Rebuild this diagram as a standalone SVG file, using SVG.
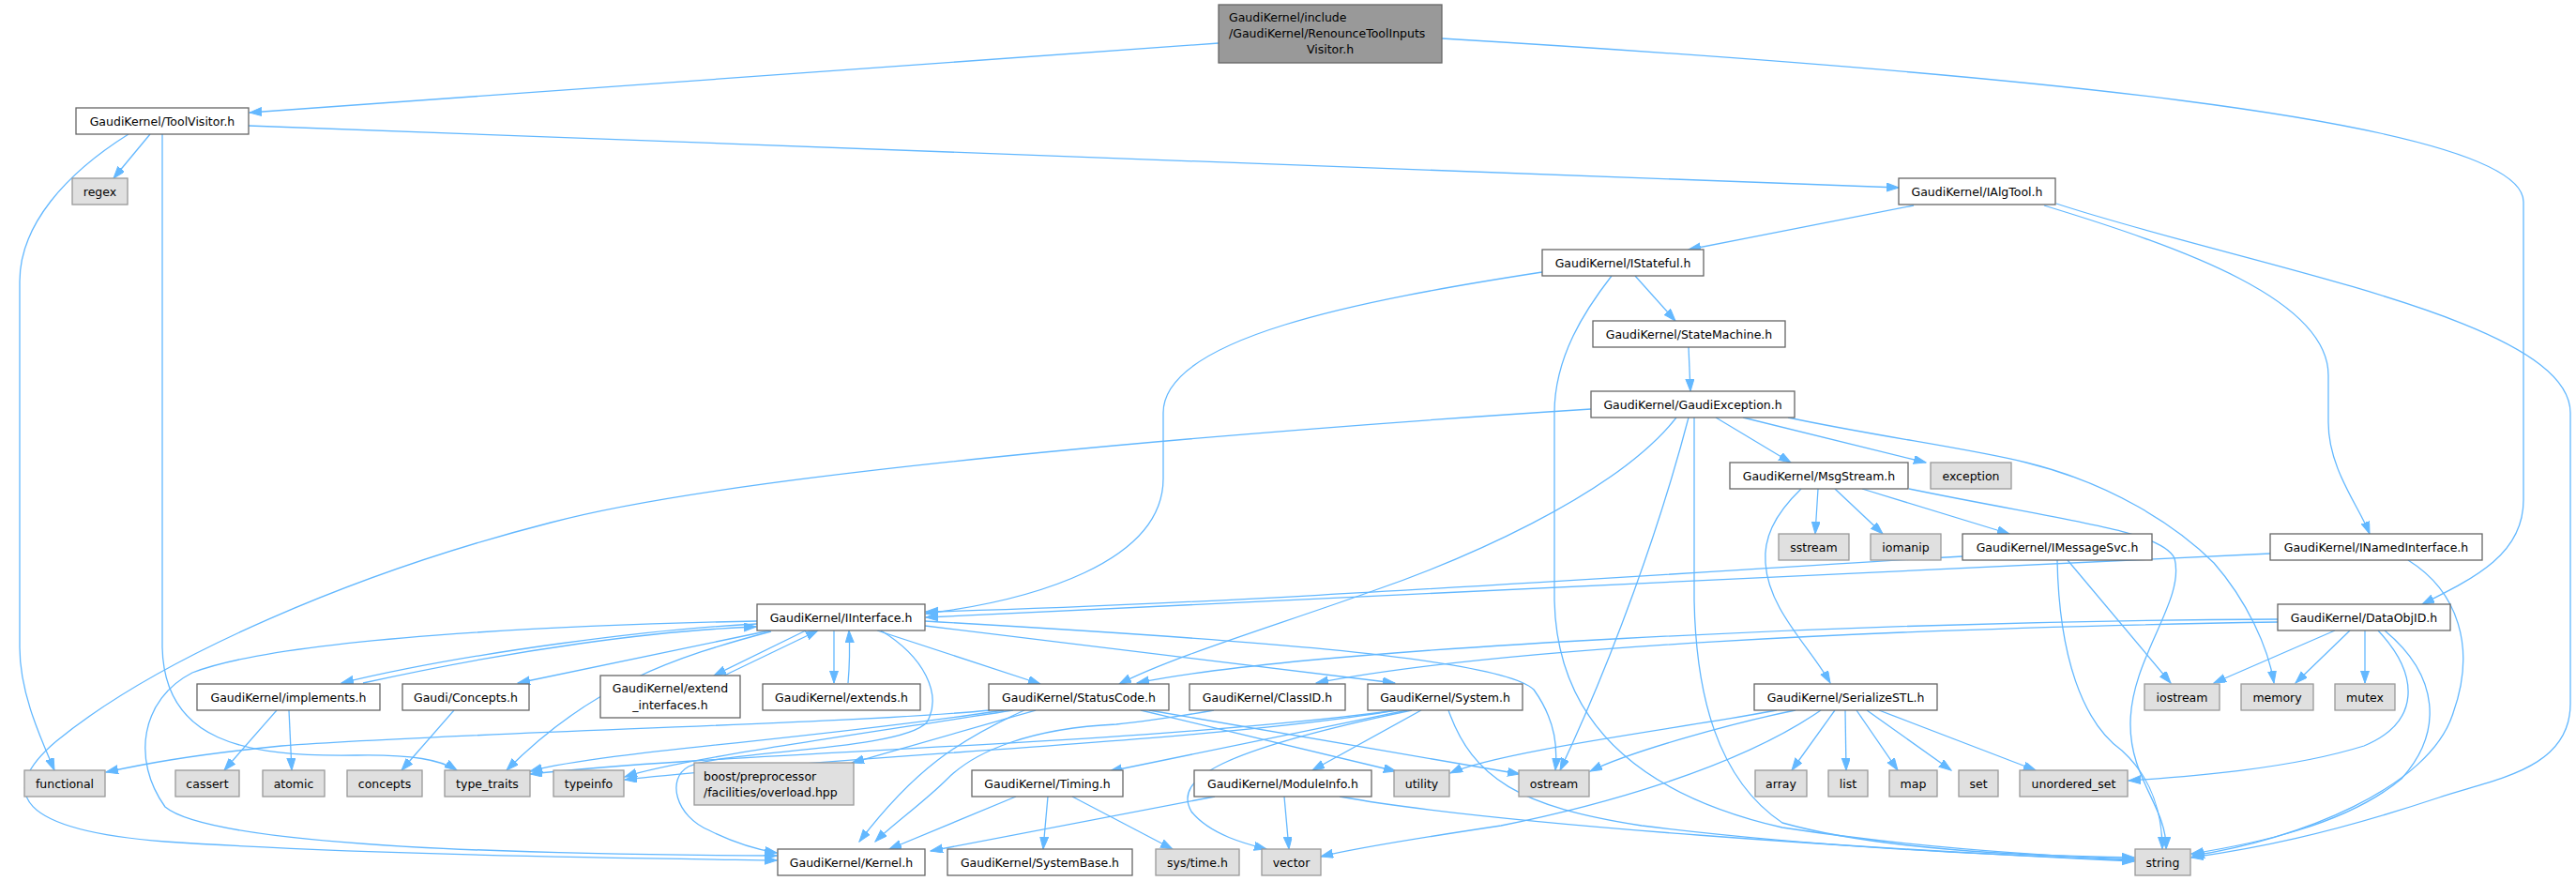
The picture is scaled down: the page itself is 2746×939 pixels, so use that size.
<svg xmlns="http://www.w3.org/2000/svg" width="2746" height="939" viewBox="0 0 2746 939">
<style>
text{font-family:"DejaVu Sans","Liberation Sans",sans-serif;font-size:12.5px;fill:#000;text-anchor:middle}
.n rect{fill:#fff;stroke:#666;stroke-width:1.3}
.s rect{fill:#e0e0e0;stroke:#999;stroke-width:1.3}
.r rect{fill:#999;stroke:#666;stroke-width:1.3}
#edges path{fill:none;stroke:#63b8ff;stroke-width:1.3;marker-end:url(#ah)}
</style>
<defs>
<marker id="ah" markerUnits="userSpaceOnUse" markerWidth="14" markerHeight="10" refX="13" refY="4.5" orient="auto"><path d="M0,0 L13,4.5 L0,9 z" fill="#63b8ff" stroke="#63b8ff" stroke-width="1"/></marker>
</defs>
<rect width="2746" height="939" fill="#fff"/>
<g id="edges">
<path d="M1299,46 L266,120"/>
<path d="M1537,41 C2100,75 2690,125 2690,215 L2690,533 C2690,590 2640,615 2582,644"/>
<path d="M160,143 L121,190"/>
<path d="M137,143 C70,185 21,240 21,300 L21,690 C21,740 45,790 58,821"/>
<path d="M173,143 L173,690 C175,790 260,807 380,805 C440,804 470,810 487,821"/>
<path d="M265,134 L2024,200"/>
<path d="M2040,219 L1800,266"/>
<path d="M2179,219 C2330,265 2482,320 2482,400 L2482,450 C2482,500 2515,540 2526,569"/>
<path d="M2192,217 C2400,285 2740,340 2740,440 L2740,750 C2740,820 2660,830 2600,850 C2480,890 2400,905 2336,914"/>
<path d="M1743,294 L1786,342"/>
<path d="M1644,290 C1450,320 1240,360 1240,440 L1240,510 C1240,600 1100,640 987,654"/>
<path d="M1718,294 C1690,330 1657,380 1657,440 L1657,640 C1660,780 1760,850 1900,882 C2050,905 2200,913 2275,916"/>
<path d="M1800,370 L1802,417"/>
<path d="M1829,445 L1909,493"/>
<path d="M1858,445 L2053,493"/>
<path d="M1696,436 C1400,455 800,500 587,557 C380,610 170,700 60,790 C-5,845 20,885 176,897 C400,912 700,915 828,917"/>
<path d="M1787,445 C1720,530 1550,600 1463,630 C1350,670 1250,700 1193,729"/>
<path d="M1800,445 C1770,560 1720,700 1663,821"/>
<path d="M1806,445 L1806,640 C1808,740 1830,830 1900,877 C2000,905 2150,912 2275,914"/>
<path d="M1906,445 C2000,465 2100,478 2160,493 C2250,515 2320,560 2360,600 C2395,640 2418,690 2424,728"/>
<path d="M1938,521 L1935,569"/>
<path d="M1956,521 L2007,569"/>
<path d="M1985,521 L2142,569"/>
<path d="M2035,521 C2200,555 2304,565 2318,595 C2330,640 2272,700 2271,770 C2270,830 2310,860 2309,905"/>
<path d="M1920,521 C1890,550 1880,575 1882,600 C1885,650 1930,690 1951,728"/>
<path d="M2092,593 C1800,610 1300,645 987,652"/>
<path d="M2204,597 L2314,728"/>
<path d="M2193,597 C2195,700 2220,770 2262,800 C2295,830 2305,870 2305,905"/>
<path d="M2420,590 L987,658"/>
<path d="M2567,597 C2620,630 2640,690 2615,760 C2590,840 2450,895 2337,912"/>
<path d="M2428,660 C2000,662 1400,690 1212,728"/>
<path d="M2428,663 C2000,670 1600,690 1403,728"/>
<path d="M2489,672 L2360,728"/>
<path d="M2505,672 L2447,728"/>
<path d="M2521,672 L2521,728"/>
<path d="M2535,672 C2580,720 2580,770 2520,795 C2440,820 2330,828 2269,832"/>
<path d="M2542,672 C2600,720 2605,780 2560,830 C2500,880 2400,900 2336,910"/>
<path d="M807,665 C700,670 500,695 364,728"/>
<path d="M387,728 C550,692 700,672 806,668"/>
<path d="M821,672 L552,728"/>
<path d="M859,672 L761,720"/>
<path d="M772,720 L872,672"/>
<path d="M889,672 L889,728"/>
<path d="M904,728 C906,705 906,690 905,672"/>
<path d="M807,662 C600,666 300,680 205,717 C150,745 140,810 176,860 C230,905 600,911 828,912"/>
<path d="M822,673 C720,700 630,730 540,821"/>
<path d="M935,672 L1109,729"/>
<path d="M986,667 L1487,728"/>
<path d="M986,662 C1300,680 1600,700 1635,735 C1660,770 1660,800 1658,821"/>
<path d="M939,672 C985,700 1005,740 988,770 C960,800 770,800 734,817 C710,830 720,870 756,885 C780,897 805,905 828,909"/>
<path d="M295,757 L239,821"/>
<path d="M308,757 L311,821"/>
<path d="M484,757 L428,821"/>
<path d="M1055,757 C900,772 500,780 300,795 C200,805 150,815 113,823"/>
<path d="M1070,757 C850,790 650,800 565,822"/>
<path d="M1080,757 C900,785 720,810 666,828"/>
<path d="M1104,757 L908,813"/>
<path d="M1216,757 L1488,822"/>
<path d="M1225,757 L1620,825"/>
<path d="M1092,757 C1020,790 975,820 916,897"/>
<path d="M1294,757 C1250,765 1200,771 1190,772 C1100,776 1040,800 1010,830 C985,855 950,880 933,897"/>
<path d="M1488,757 C1300,790 900,805 666,831"/>
<path d="M1490,757 C1200,795 800,800 565,825"/>
<path d="M1500,757 L1183,822"/>
<path d="M1505,757 C1300,800 1250,830 1270,865 C1290,890 1330,900 1350,905"/>
<path d="M1515,757 L1399,821"/>
<path d="M1544,757 C1570,830 1620,860 1750,880 C1950,905 2150,912 2275,917"/>
<path d="M1083,849 L948,905"/>
<path d="M1117,849 L1112,905"/>
<path d="M1143,849 L1250,905"/>
<path d="M1295,849 L992,907"/>
<path d="M1369,849 L1374,905"/>
<path d="M1428,849 C1600,880 2000,905 2275,918"/>
<path d="M1956,757 L1910,821"/>
<path d="M1967,757 L1968,821"/>
<path d="M1979,757 L2023,821"/>
<path d="M1990,757 L2080,821"/>
<path d="M2003,757 L2170,821"/>
<path d="M1894,757 C1800,775 1600,800 1546,824"/>
<path d="M1914,757 C1850,770 1740,800 1695,822"/>
<path d="M1941,757 C1850,820 1700,860 1600,880 C1500,895 1440,905 1408,913"/>
</g>
<g id="root" class="r"><rect x="1299" y="5" width="238" height="62"/><text x="1310" y="22.5" style="text-anchor:start">GaudiKernel/include</text><text x="1310" y="39.5" style="text-anchor:start">/GaudiKernel/RenounceToolInputs</text><text x="1418" y="56.5">Visitor.h</text></g>
<g id="ToolVisitor" class="n"><rect x="81" y="115" width="184" height="28"/><text x="173" y="133.5">GaudiKernel/ToolVisitor.h</text></g>
<g id="regex" class="s"><rect x="77" y="190" width="59" height="28"/><text x="106.5" y="208.5">regex</text></g>
<g id="IAlgTool" class="n"><rect x="2024" y="190" width="167" height="28"/><text x="2107.5" y="208.5">GaudiKernel/IAlgTool.h</text></g>
<g id="IStateful" class="n"><rect x="1644" y="266" width="172" height="28"/><text x="1730" y="284.5">GaudiKernel/IStateful.h</text></g>
<g id="StateMachine" class="n"><rect x="1698" y="342" width="205" height="28"/><text x="1800.5" y="360.5">GaudiKernel/StateMachine.h</text></g>
<g id="GaudiException" class="n"><rect x="1696" y="417" width="217" height="28"/><text x="1804.5" y="435.5">GaudiKernel/GaudiException.h</text></g>
<g id="MsgStream" class="n"><rect x="1844" y="493" width="190" height="28"/><text x="1939" y="511.5">GaudiKernel/MsgStream.h</text></g>
<g id="exception" class="s"><rect x="2058" y="493" width="86" height="28"/><text x="2101" y="511.5">exception</text></g>
<g id="sstream" class="s"><rect x="1896" y="569" width="75" height="28"/><text x="1933.5" y="587.5">sstream</text></g>
<g id="iomanip" class="s"><rect x="1994" y="569" width="75" height="28"/><text x="2031.5" y="587.5">iomanip</text></g>
<g id="IMessageSvc" class="n"><rect x="2092" y="569" width="202" height="28"/><text x="2193" y="587.5">GaudiKernel/IMessageSvc.h</text></g>
<g id="INamedInterface" class="n"><rect x="2420" y="569" width="226" height="28"/><text x="2533" y="587.5">GaudiKernel/INamedInterface.h</text></g>
<g id="IInterface" class="n"><rect x="807" y="644" width="179" height="28"/><text x="896.5" y="662.5">GaudiKernel/IInterface.h</text></g>
<g id="DataObjID" class="n"><rect x="2428" y="644" width="184" height="28"/><text x="2520" y="662.5">GaudiKernel/DataObjID.h</text></g>
<g id="implements" class="n"><rect x="210" y="729" width="195" height="28"/><text x="307.5" y="747.5">GaudiKernel/implements.h</text></g>
<g id="Concepts" class="n"><rect x="429" y="729" width="135" height="28"/><text x="496.5" y="747.5">Gaudi/Concepts.h</text></g>
<g id="extend_interfaces" class="n"><rect x="640" y="720" width="149" height="45"/><text x="714.5" y="738">GaudiKernel/extend</text><text x="714.5" y="756">_interfaces.h</text></g>
<g id="extends" class="n"><rect x="813" y="729" width="168" height="28"/><text x="897" y="747.5">GaudiKernel/extends.h</text></g>
<g id="StatusCode" class="n"><rect x="1054" y="729" width="192" height="28"/><text x="1150" y="747.5">GaudiKernel/StatusCode.h</text></g>
<g id="ClassID" class="n"><rect x="1268" y="729" width="166" height="28"/><text x="1351" y="747.5">GaudiKernel/ClassID.h</text></g>
<g id="System" class="n"><rect x="1458" y="729" width="165" height="28"/><text x="1540.5" y="747.5">GaudiKernel/System.h</text></g>
<g id="SerializeSTL" class="n"><rect x="1870" y="729" width="195" height="28"/><text x="1967.5" y="747.5">GaudiKernel/SerializeSTL.h</text></g>
<g id="iostream" class="s"><rect x="2286" y="729" width="80" height="28"/><text x="2326" y="747.5">iostream</text></g>
<g id="memory" class="s"><rect x="2389" y="729" width="77" height="28"/><text x="2427.5" y="747.5">memory</text></g>
<g id="mutex" class="s"><rect x="2489" y="729" width="64" height="28"/><text x="2521" y="747.5">mutex</text></g>
<g id="functional" class="s"><rect x="26" y="821" width="86" height="28"/><text x="69" y="839.5">functional</text></g>
<g id="cassert" class="s"><rect x="187" y="821" width="68" height="28"/><text x="221" y="839.5">cassert</text></g>
<g id="atomic" class="s"><rect x="280" y="821" width="66" height="28"/><text x="313" y="839.5">atomic</text></g>
<g id="concepts" class="s"><rect x="370" y="821" width="80" height="28"/><text x="410" y="839.5">concepts</text></g>
<g id="type_traits" class="s"><rect x="474" y="821" width="91" height="28"/><text x="519.5" y="839.5">type_traits</text></g>
<g id="typeinfo" class="s"><rect x="590" y="821" width="75" height="28"/><text x="627.5" y="839.5">typeinfo</text></g>
<g id="boost" class="s"><rect x="740" y="813" width="170" height="45"/><text x="750" y="831.5" style="text-anchor:start">boost/preprocessor</text><text x="750" y="848.5" style="text-anchor:start">/facilities/overload.hpp</text></g>
<g id="Timing" class="n"><rect x="1036" y="821" width="161" height="28"/><text x="1116.5" y="839.5">GaudiKernel/Timing.h</text></g>
<g id="ModuleInfo" class="n"><rect x="1273" y="821" width="189" height="28"/><text x="1367.5" y="839.5">GaudiKernel/ModuleInfo.h</text></g>
<g id="utility" class="s"><rect x="1486" y="821" width="59" height="28"/><text x="1515.5" y="839.5">utility</text></g>
<g id="ostream" class="s"><rect x="1619" y="821" width="75" height="28"/><text x="1656.5" y="839.5">ostream</text></g>
<g id="array" class="s"><rect x="1871" y="821" width="55" height="28"/><text x="1898.5" y="839.5">array</text></g>
<g id="list" class="s"><rect x="1949" y="821" width="42" height="28"/><text x="1970" y="839.5">list</text></g>
<g id="map" class="s"><rect x="2014" y="821" width="51" height="28"/><text x="2039.5" y="839.5">map</text></g>
<g id="set" class="s"><rect x="2088" y="821" width="42" height="28"/><text x="2109" y="839.5">set</text></g>
<g id="unordered_set" class="s"><rect x="2153" y="821" width="115" height="28"/><text x="2210.5" y="839.5">unordered_set</text></g>
<g id="Kernel" class="n"><rect x="829" y="905" width="157" height="28"/><text x="907.5" y="923.5">GaudiKernel/Kernel.h</text></g>
<g id="SystemBase" class="n"><rect x="1010" y="905" width="197" height="28"/><text x="1108.5" y="923.5">GaudiKernel/SystemBase.h</text></g>
<g id="systime" class="s"><rect x="1232" y="905" width="89" height="28"/><text x="1276.5" y="923.5">sys/time.h</text></g>
<g id="vector" class="s"><rect x="1345" y="905" width="63" height="28"/><text x="1376.5" y="923.5">vector</text></g>
<g id="string" class="s"><rect x="2276" y="905" width="59" height="28"/><text x="2305.5" y="923.5">string</text></g>
</svg>
